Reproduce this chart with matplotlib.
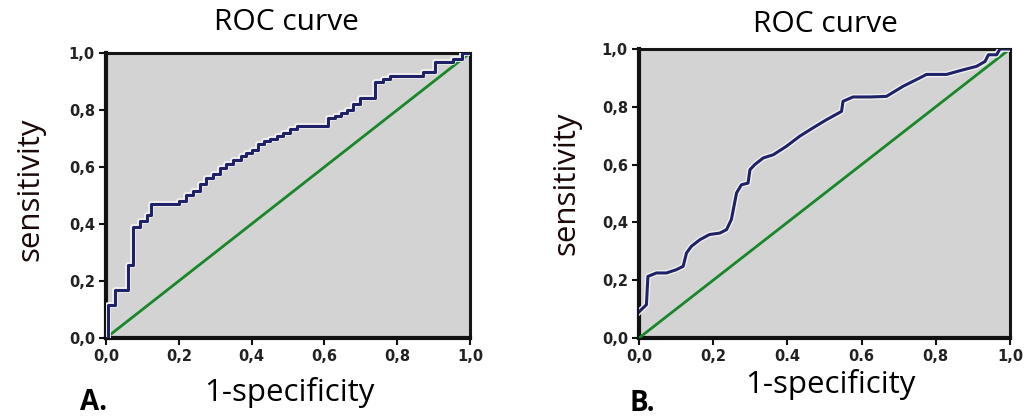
"""
    Two ROC curves side by side (panels A and B), redrawn from a figure.
"""
import matplotlib
matplotlib.use("Agg")
import matplotlib.pyplot as plt
import matplotlib.patheffects as pe

# panel A: staircase ROC, jump points (1-specificity, sensitivity)
fpr_a = [0.0, 0.006, 0.025, 0.061, 0.075, 0.093, 0.112, 0.125, 0.200, 0.220,
         0.240, 0.258, 0.275, 0.295, 0.313, 0.330, 0.350, 0.370, 0.386, 0.400,
         0.418, 0.435, 0.450, 0.470, 0.487, 0.505, 0.524, 0.611, 0.630, 0.645,
         0.661, 0.680, 0.698, 0.739, 0.760, 0.780, 0.872, 0.904, 0.954, 0.977,
         1.0]
tpr_a = [0.0, 0.117, 0.170, 0.257, 0.390, 0.410, 0.430, 0.470, 0.480, 0.500,
         0.515, 0.540, 0.560, 0.575, 0.596, 0.610, 0.625, 0.640, 0.650, 0.660,
         0.680, 0.690, 0.700, 0.710, 0.720, 0.735, 0.745, 0.772, 0.780, 0.790,
         0.800, 0.820, 0.842, 0.900, 0.910, 0.918, 0.935, 0.970, 0.980, 1.0,
         1.0]

# panel B: smoother ROC curve
fpr_b = [0.0, 0.006, 0.020, 0.024, 0.047, 0.074, 0.100, 0.119, 0.128, 0.141,
         0.164, 0.190, 0.218, 0.236, 0.249, 0.263, 0.276, 0.294, 0.299, 0.312,
         0.335, 0.362, 0.397, 0.433, 0.469, 0.505, 0.546, 0.550, 0.577, 0.622,
         0.667, 0.712, 0.757, 0.775, 0.829, 0.874, 0.910, 0.933, 0.942, 0.964,
         0.973, 1.0]
tpr_b = [0.09, 0.098, 0.115, 0.213, 0.225, 0.225, 0.236, 0.248, 0.294, 0.317,
         0.340, 0.358, 0.363, 0.375, 0.410, 0.502, 0.530, 0.536, 0.582, 0.600,
         0.623, 0.634, 0.663, 0.698, 0.727, 0.755, 0.784, 0.819, 0.834, 0.834,
         0.836, 0.871, 0.900, 0.912, 0.912, 0.928, 0.940, 0.957, 0.980, 0.980,
         1.0, 1.0]

ticks = [0.0, 0.2, 0.4, 0.6, 0.8, 1.0]
ylabels = ["0,0", "0,2", "0,4", "0,6", "0,8", "1,0"]
xlabels_a = ["0,0", "0,2", "0,4", "0,6", "0,8", "1,0"]
xlabels_b = ["0,0", "0,2", "0.4", "0.6", "0,8", "1,0"]

bg = "#d3d3d3"
navy = "#1f2266"
green = "#17872a"
halo = [pe.withStroke(linewidth=4.2, foreground="#f0f0f0")]

fig = plt.figure(figsize=(10.27, 4.18), dpi=100)
ax_a = fig.add_axes([0.1032, 0.1914, 0.3544, 0.6818])
ax_b = fig.add_axes([0.6222, 0.1914, 0.3612, 0.6914])


def style(ax, xlabels):
    ax.set_facecolor(bg)
    ax.set_xlim(0, 1)
    ax.set_ylim(0, 1)
    ax.set_xticks(ticks)
    ax.set_yticks(ticks)
    ax.set_xticklabels(xlabels)
    ax.set_yticklabels(ylabels)
    ax.tick_params(direction="out", length=5, width=1.5, color="#111111",
                   labelsize=10.5, labelcolor="#222222", pad=3)
    for lab in ax.get_xticklabels() + ax.get_yticklabels():
        lab.set_fontweight("bold")
    for side in ["left", "bottom"]:
        ax.spines[side].set_linewidth(3.0)
        ax.spines[side].set_color("#111111")
    for side in ["top", "right"]:
        ax.spines[side].set_linewidth(2.2)
        ax.spines[side].set_color("#151515")
    ax.plot([0, 1], [0, 1], color=green, lw=2.0, zorder=3)


style(ax_a, xlabels_a)
ax_a.step(fpr_a, tpr_a, where="post", color=navy, lw=2.2, zorder=4,
          path_effects=halo)

style(ax_b, xlabels_b)
ax_b.plot(fpr_b, tpr_b, color=navy, lw=2.2, zorder=4, path_effects=halo)

font = "Open Sans"
fig.text(286 / 1027, 1 - 23 / 418, "ROC curve", ha="center", va="center",
         fontsize=21.5, family=font)
fig.text(825 / 1027, 1 - 24 / 418, "ROC curve", ha="center", va="center",
         fontsize=21.5, family=font)
fig.text(30 / 1027, 1 - 189 / 418, "sensitivity", ha="center", va="center",
         rotation=90, fontsize=22.5, family=font, color="#1a0808")
fig.text(566 / 1027, 1 - 183 / 418, "sensitivity", ha="center", va="center",
         rotation=90, fontsize=22.5, family=font, color="#1a0808")
fig.text(289 / 1027, 1 - 392 / 418, "1-specificity", ha="center", va="center",
         fontsize=22.5, family=font)
fig.text(830 / 1027, 1 - 384 / 418, "1-specificity", ha="center", va="center",
         fontsize=22.5, family=font)
fig.text(94 / 1027, 1 - 410 / 418, "A.", ha="center", va="baseline",
         fontsize=20, fontweight="bold", family=font)
fig.text(642 / 1027, 1 - 411 / 418, "B.", ha="center", va="baseline",
         fontsize=20, fontweight="bold", family=font)

fig.savefig("out.png", dpi=100)
